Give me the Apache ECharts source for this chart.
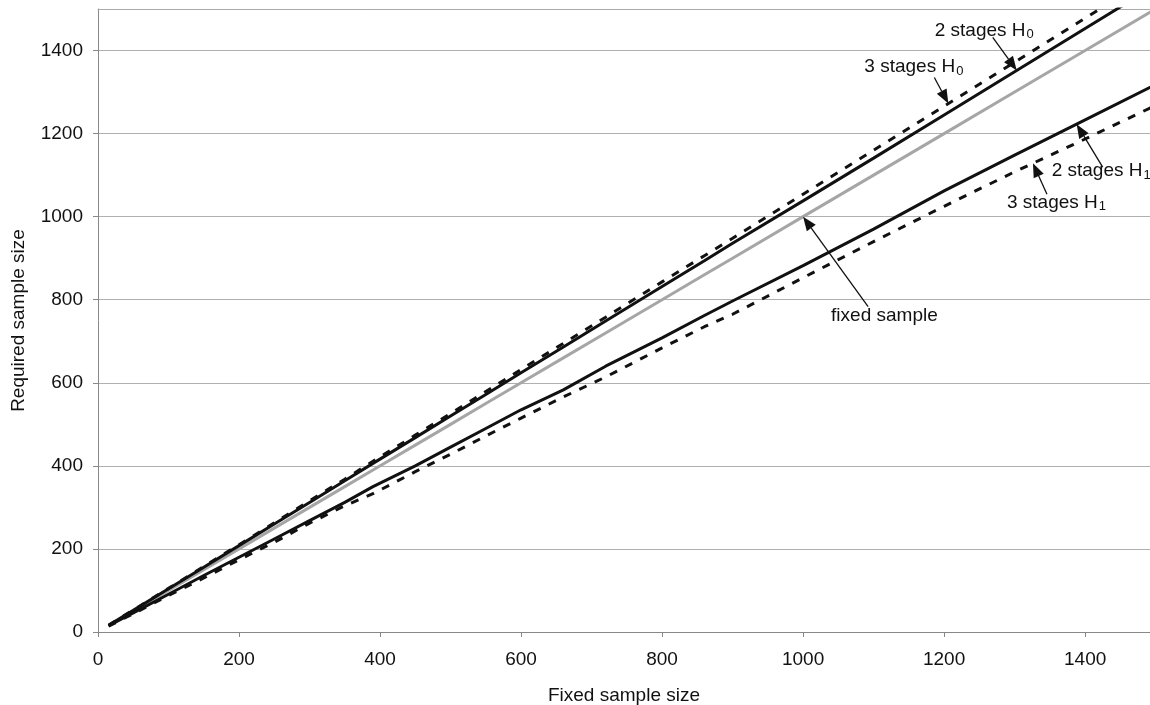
<!DOCTYPE html>
<html>
<head>
<meta charset="utf-8">
<script src="https://cdn.jsdelivr.net/npm/echarts@6/dist/echarts.min.js"></script>
<style>
  html, body { margin: 0; padding: 0; background: #fff; }
  #container { width: 1150px; height: 705px; }
</style>
</head>
<body>
<div id="container"></div>
<script>
// fixed sample size (x) and required sample sizes
const fixedSize   = [15, 50, 100, 150, 200, 250, 300, 350, 390, 450, 500, 550, 600, 660, 720, 800, 860, 900, 1000, 1100, 1200, 1300, 1400, 1500];
const fixedSample = [15, 50, 100, 150, 200, 250, 300, 350, 390, 450, 500, 550, 600, 660, 720, 800, 860, 900, 1000, 1100, 1200, 1300, 1400, 1500];
const twoStagesH0 = [16, 52, 104, 156, 208, 260, 312, 364, 406, 468, 520, 572, 624, 686, 749, 832, 894, 936, 1038, 1141, 1245, 1349, 1453, 1557];
const threeStagesH0 = [16, 53, 105, 158, 210, 263, 316, 368, 411, 474, 526, 579, 632, 695, 758, 843, 906, 948, 1054, 1160, 1266, 1372, 1478, 1584];
const twoStagesH1 = [15, 46, 91, 136, 180, 224, 268, 312, 350, 400, 445, 490, 535, 583, 640, 708, 762, 797, 882, 970, 1062, 1148, 1233, 1318];
const threeStagesH1 = [14, 44, 88, 130, 174, 216, 262, 304, 333, 386, 428, 472, 515, 566, 614, 684, 735, 765, 853, 940, 1025, 1108, 1187, 1268];

const FONT = '"Liberation Sans", Arial, sans-serif';

function pairs(ys) {
  return fixedSize.map((x, i) => [x, ys[i]]);
}

// y on a series at a given x (for placing the arrows)
function yAt(ys, x) {
  for (let i = 1; i < fixedSize.length; i++) {
    if (x <= fixedSize[i]) {
      const t = (x - fixedSize[i - 1]) / (fixedSize[i] - fixedSize[i - 1]);
      return ys[i - 1] + t * (ys[i] - ys[i - 1]);
    }
  }
  return ys[ys.length - 1];
}

const annotations = [
  { main: "2 stages H", sub: "0", ys: twoStagesH0, at: 1303, tail: [-24, -33], label: [-82, -40] },
  { main: "3 stages H", sub: "0", ys: threeStagesH0, at: 1206, tail: [-14, -26], label: [-84, -37] },
  { main: "2 stages H", sub: "1", ys: twoStagesH1, at: 1388, tail: [26, 43], label: [-25, 47] },
  { main: "3 stages H", sub: "1", ys: threeStagesH1, at: 1326, tail: [14, 31], label: [-26, 39] },
  { main: "fixed sample", sub: "", ys: fixedSample, at: 1000, tail: [65, 90], label: [28, 99] },
];

const dom = document.getElementById("container");
const myChart = echarts.init(dom, null, { renderer: "canvas" });

const solid = { color: "#111", width: 3, type: "solid" };
const dashed = { color: "#111", width: 3, type: [8, 9] };

const option = {
  animation: false,
  backgroundColor: "#fff",
  textStyle: { fontFamily: FONT },
  grid: { left: 98, right: 0, top: 9, bottom: 73, containLabel: false, outerBoundsMode: "none" },
  xAxis: [
    {
      type: "value",
      min: 0,
      max: 1492, // the scan cuts the plot just short of 1500
      interval: 200,
      name: "Fixed sample size",
      nameLocation: "middle",
      nameGap: 54,
      nameTextStyle: { fontSize: 19, color: "#111", fontFamily: FONT },
      axisLine: { show: true, lineStyle: { color: "#888", width: 1 } },
      axisTick: { show: true, length: 5, lineStyle: { color: "#888" } },
      axisLabel: { fontSize: 19, color: "#111", margin: 18, fontFamily: FONT, showMaxLabel: false,
        formatter: (v) => String(v) },
      splitLine: { show: false },
    },
    {
      type: "value",
      position: "top",
      min: 0,
      max: 1492,
      axisLine: { show: true, lineStyle: { color: "#aaa", width: 1 } },
      axisTick: { show: false },
      axisLabel: { show: false },
      splitLine: { show: false },
    },
  ],
  yAxis: {
    type: "value",
    min: 0,
    max: 1500,
    interval: 200,
    name: "Required sample size",
    nameLocation: "middle",
    nameGap: 70,
    nameTextStyle: { fontSize: 19, color: "#111", fontFamily: FONT },
    axisLine: { show: true, lineStyle: { color: "#888", width: 1 } },
    axisTick: { show: true, length: 5, lineStyle: { color: "#888" } },
    axisLabel: { fontSize: 19, color: "#111", margin: 15, fontFamily: FONT, showMaxLabel: false,
      formatter: (v) => String(v) },
    splitLine: { show: true, lineStyle: { color: "#b0b0b0", width: 1 } },
  },
  series: [
    { name: "fixed sample", type: "line", data: pairs(fixedSample), showSymbol: false,
      lineStyle: { color: "#a6a6a6", width: 3 }, z: 2 },
    { name: "2 stages H0", type: "line", data: pairs(twoStagesH0), showSymbol: false, lineStyle: solid, z: 3 },
    { name: "3 stages H0", type: "line", data: pairs(threeStagesH0), showSymbol: false, lineStyle: dashed, z: 3 },
    { name: "2 stages H1", type: "line", data: pairs(twoStagesH1), showSymbol: false, lineStyle: solid, z: 3 },
    { name: "3 stages H1", type: "line", data: pairs(threeStagesH1), showSymbol: false, lineStyle: dashed, z: 3 },
  ],
};
myChart.setOption(option);

// arrows and labels
const graphics = [];
annotations.forEach((a) => {
  const tip = myChart.convertToPixel({ xAxisIndex: 0, yAxisIndex: 0 }, [a.at, yAt(a.ys, a.at)]);
  const tail = [tip[0] + a.tail[0], tip[1] + a.tail[1]];
  const dx = tip[0] - tail[0], dy = tip[1] - tail[1];
  const len = Math.sqrt(dx * dx + dy * dy);
  const ux = dx / len, uy = dy / len;
  const headLen = 14, headW = 5.5;
  const base = [tip[0] - ux * headLen, tip[1] - uy * headLen];
  graphics.push({
    type: "line", z: 10,
    shape: { x1: tail[0], y1: tail[1], x2: base[0], y2: base[1] },
    style: { stroke: "#111", lineWidth: 1.3 },
  });
  graphics.push({
    type: "polygon", z: 10,
    shape: { points: [tip, [base[0] - uy * headW, base[1] + ux * headW], [base[0] + uy * headW, base[1] - ux * headW]] },
    style: { fill: "#111" },
  });
  graphics.push({
    type: "text", z: 11,
    x: tip[0] + a.label[0],
    y: tip[1] + a.label[1],
    style: {
      text: a.sub ? "{m|" + a.main + "}{s|" + a.sub + "}" : "{m|" + a.main + "}",
      verticalAlign: "middle",
      align: "left",
      rich: {
        m: { fontSize: 19, fontFamily: FONT, fill: "#111", lineHeight: 22 },
        s: { fontSize: 13, fontFamily: FONT, fill: "#111", padding: [9, 0, 0, 1] },
      },
    },
  });
});
myChart.setOption({ graphic: graphics });

window.addEventListener("resize", myChart.resize);
</script>
</body>
</html>
